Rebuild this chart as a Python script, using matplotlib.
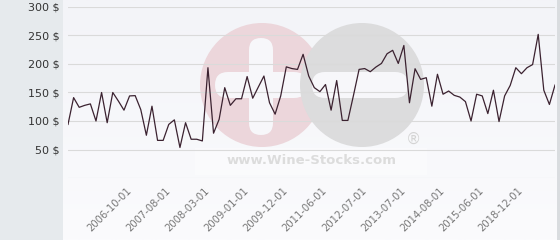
import numpy as np
import matplotlib
matplotlib.use("Agg")
import matplotlib.pyplot as plt
from matplotlib.patches import Rectangle, Circle, FancyBboxPatch

# price series (one point per observation, equally spaced on the x axis)
prices = [
    94, 141, 124, 127.5, 130, 100, 150, 97, 150, 135,
    119, 144, 144.5, 120, 75, 126, 66, 66, 94, 102,
    53.5, 97, 68, 68, 65, 193.5, 78.6, 103, 158.5, 127.5,
    139, 139, 178, 140, 159.6, 178.9, 132, 112, 144, 195,
    192, 190.5, 217, 179, 158.5, 151.5, 164, 119, 171, 101,
    101, 145, 190.5, 192, 186.5, 194.6, 201, 218, 224, 201,
    232.5, 132, 191.7, 173, 176, 126, 182, 147, 152.6, 145,
    142, 134, 100, 147, 144, 113, 154, 99, 144, 162.5,
    193.5, 183, 193.5, 199, 252, 154, 129, 163,
]
tick_idx = [11, 18, 25, 32, 39, 46, 53, 60, 67, 74, 81]
tick_labels = ["2006-10-01", "2007-08-01", "2008-03-01", "2009-01-01", "2009-12-01",
               "2011-06-01", "2012-07-01", "2013-07-01", "2014-08-01", "2015-06-01",
               "2018-12-01"]
y_ticks = [0, 50, 100, 150, 200, 250, 300]

fig = plt.figure(figsize=(5.6, 2.4), dpi=100)

# background layer in pixel coords (0..560, 0..240 from top)
bg = fig.add_axes([0, 0, 1, 1], zorder=0)
bg.set_xlim(0, 560); bg.set_ylim(240, 0); bg.axis("off")
bg.add_patch(Rectangle((0, 0), 63, 240, fc="#e6eaed", ec="none"))
grad = np.linspace(0, 1, 100).reshape(-1, 1)
cmap = matplotlib.colors.LinearSegmentedColormap.from_list("bgc", ["#f3f4f8", "#fbfbfd"])
bg.imshow(grad, extent=(63, 557, 240, 0), cmap=cmap, aspect="auto")
bg.add_patch(Rectangle((557, 0), 3, 240, fc="#d9dcdf", ec="none"))
bg.set_xlim(0, 560); bg.set_ylim(240, 0)

# watermark
bg.add_patch(Circle((262, 85), 62, fc="#ecd6db", ec="none"))
bg.add_patch(FancyBboxPatch((249, 38), 24, 97, boxstyle="round,pad=0,rounding_size=12",
                            fc="#f7f7fa", ec="none"))
bg.add_patch(FancyBboxPatch((215, 72), 92, 26, boxstyle="round,pad=0,rounding_size=13",
                            fc="#f7f7fa", ec="none"))
bg.add_patch(Circle((362, 85), 62, fc="#dcdcdd", ec="none"))
bg.add_patch(FancyBboxPatch((312, 72), 96, 26, boxstyle="round,pad=0,rounding_size=13",
                            fc="#f7f7fa", ec="none"))
bg.add_patch(Rectangle((195, 148), 232, 27, fc="white", ec="none", alpha=0.4))
bg.text(312, 161, "www.Wine-Stocks.com", ha="center", va="center",
        fontsize=9.5, fontweight="bold", color="#dcdcdc")
bg.text(413, 139, "®", ha="center", va="center", fontsize=11, color="#d4d4d4")

ax = fig.add_axes([68 / 560, 62 / 240, 487 / 560, 171 / 240], zorder=1)
ax.patch.set_alpha(0)
x = np.arange(len(prices))
ax.set_xlim(0, len(prices) - 1)
ax.set_ylim(0, 300)
for v in y_ticks:
    ax.axhline(v, color="#dadada", lw=0.8, zorder=1)
ax.plot(x, prices, color="#3b2230", lw=0.9, zorder=3)

ax.set_yticks(y_ticks)
ax.set_yticklabels([""] + [f"{v} $" for v in y_ticks[1:]], fontsize=8, color="#333333")
ax.set_xticks(tick_idx)
ax.set_xticklabels(tick_labels, fontsize=7.2, color="#777777", rotation=45,
                   ha="right", va="center", rotation_mode="anchor")
ax.tick_params(axis="y", length=0, pad=6)
ax.tick_params(axis="x", length=0, pad=8)
for s in ax.spines.values():
    s.set_visible(False)

fig.savefig("out.png", dpi=100)
